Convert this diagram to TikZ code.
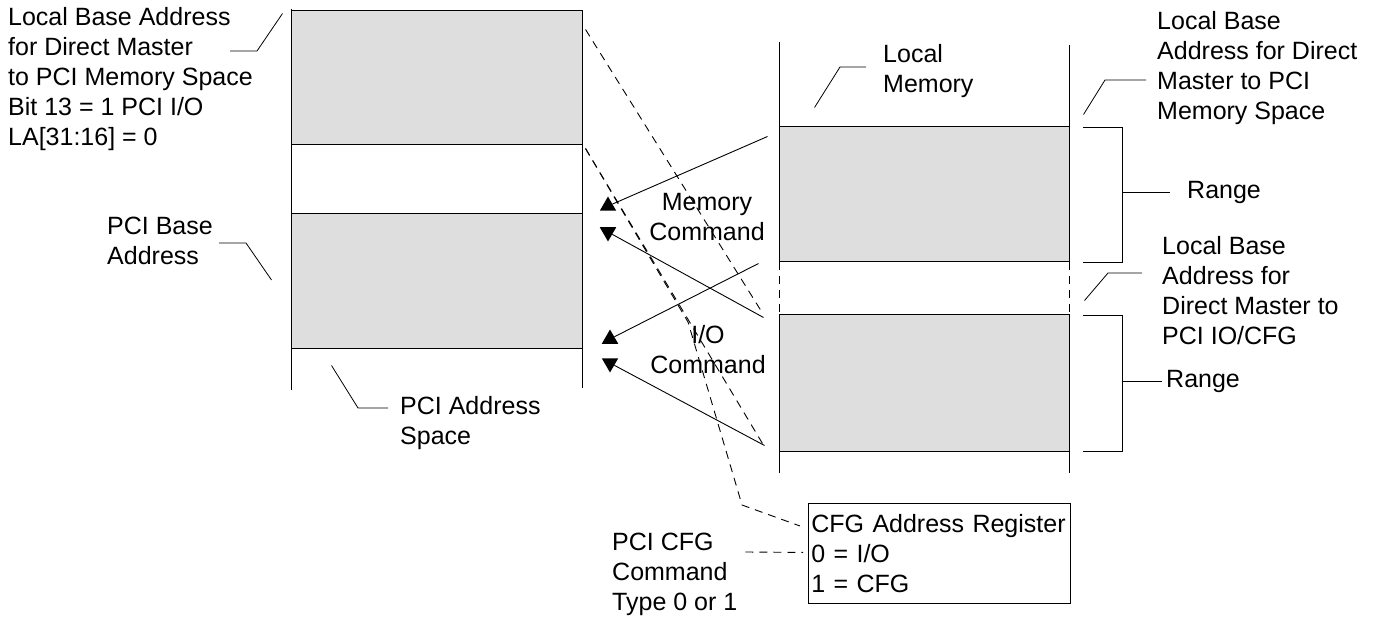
\documentclass[tikz,border=0pt]{standalone}
\usepackage{fontspec}
\setmainfont{Liberation Sans}
\usepackage{xcolor}
\usetikzlibrary{positioning, shapes.geometric}
\usetikzlibrary{calc}
\definecolor{shade}{gray}{0.87}
\tikzstyle{region} = [rectangle, draw=black, fill=shade, line width=1pt, minimum width=291pt, minimum height=134pt, inner sep=0pt]
\tikzstyle{txt} = [align=left, anchor=west, inner sep=0pt]
\tikzstyle{leader} = [line width=0.8pt]
\tikzstyle{map} = [line width=0.9pt, dash pattern=on 8pt off 6pt]
\tikzstyle{arrow} = [line width=0.9pt]
\tikzstyle{tipup} = [regular polygon, regular polygon sides=3, fill=black, minimum size=19pt, inner sep=0pt]
\tikzstyle{tipdown} = [tipup, shape border rotate=180]
\tikzstyle{every node}=[font=\fontsize{25}{30}\selectfont]

\begin{document}
\begin{tikzpicture}[x=1pt,y=-1pt]
		\useasboundingbox (0,0) rectangle (1375,617);
		\node (pcimem) [region] at (436.5,78) {};
		\node (pcibase) [region] at (436.5,281) {};
		\node (locmem) [region, minimum width=290pt, minimum height=135pt] at (924,194.5) {};
		\node (locio) [region, minimum width=290pt, minimum height=136pt] at (924,383) {};
		\draw [line width=1pt] (291,9) -- (291,390) (582,11) -- (582,388);
		\draw [line width=1pt] (779,42) -- (779,262) (779,315) -- (779,473) (1069,45) -- (1069,262) (1069,315) -- (1069,473);
		\draw [line width=1pt, dash pattern=on 8pt off 6pt] (779,262) -- (779,315) (1069,262) -- (1069,315);
		\node (cfg) [draw, line width=0.8pt, align=left, anchor=north west, text width=256pt, inner xsep=3pt, minimum height=100pt] at (808,503) {CFG Address Register\\0 = I/O\\1 = CFG};
		\node (lbase) [txt] at (8,79.5) {Local Base Address\\for Direct Master\\to PCI Memory Space\\Bit 13 = 1 PCI I/O\\LA[31:16] = 0};
		\node (pcib) [txt] at (107,240.5) {PCI Base\\Address};
		\node (pcis) [txt] at (400,423) {PCI Address\\Space};
		\node (memcmd) [align=center, inner sep=0pt] at (707,217) {Memory\\Command};
		\node (iocmd) [align=center, inner sep=0pt] at (708,350) {I/O\\Command};
		\node (locm) [txt] at (883,71) {Local\\Memory};
		\node (lbmem) [txt] at (1157,68.5) {Local Base\\Address for Direct\\Master to PCI\\Memory Space};
		\node (lbio) [txt] at (1162,291) {Local Base\\Address for\\Direct Master to\\PCI IO/CFG};
		\node (range1) [txt] at (1187,192) {Range};
		\node (range2) [txt] at (1166,381) {Range};
		\node (pcicfg) [txt] at (612,574) {PCI CFG\\Command\\Type 0 or 1};
		\node (t1) [tipup] at (608,206) {};
		\node (t2) [tipdown] at (608,232) {};
		\node (t3) [tipup] at (610,339) {};
		\node (t4) [tipdown] at (610,363) {};
		\draw [arrow] ($(locmem.north west)+(-11,10)$) -- (t1);
		\draw [arrow] ($(locio.north west)+(-15,3)$) -- (t2);
		\draw [arrow] ($(locmem.south west)+(-20,1)$) -- (t3);
		\draw [arrow] ($(locio.south west)+(-14,-6)$) -- (t4);
		\draw [map] ($(pcimem.north east)+(3,19)$) -- ($(locio.north west)+(-17,-3)$);
		\draw [map] ($(pcimem.south east)+(3,3)$) -- ($(locio.south west)+(-16,-8)$);
		\draw [map] ($(pcimem.south east)+(3,3)$) -- (688,322) -- (742,505) -- ($(cfg.north west)+(-8,23)$);
		\draw [map] ($(pcicfg.east)+(8,-22)$) -- ($(cfg.west)+(-5,-1)$);
		\draw [leader] (230,51) -- (257,51) -- ($(pcimem.north west)+(-8,3)$);
		\draw [leader] (219,243) -- (246,243) -- ($(pcibase.west)+(-19,-1)$);
		\draw [leader] ($(pcibase.south west)+(41,17)$) -- (358,408) -- (388,408);
		\draw [leader] ($(locmem.north west)+(36,-19)$) -- (840,67) -- (866,67);
		\draw [leader] ($(locmem.north east)+(14,-12)$) -- (1105,80) -- (1146,80);
		\draw [leader] ($(locmem.south east)+(15,38)$) -- (1108,273) -- (1142,273);
		\draw [leader] (1083,127) -| (1122,262) -- (1083,262);
		\draw [leader] (1083,315) -| (1122,451) -- (1083,451);
		\draw [leader] (1122,192) -- (1170,192);
		\draw [leader] (1122,381) -- (1162,381);
	\end{tikzpicture}
\end{document}
